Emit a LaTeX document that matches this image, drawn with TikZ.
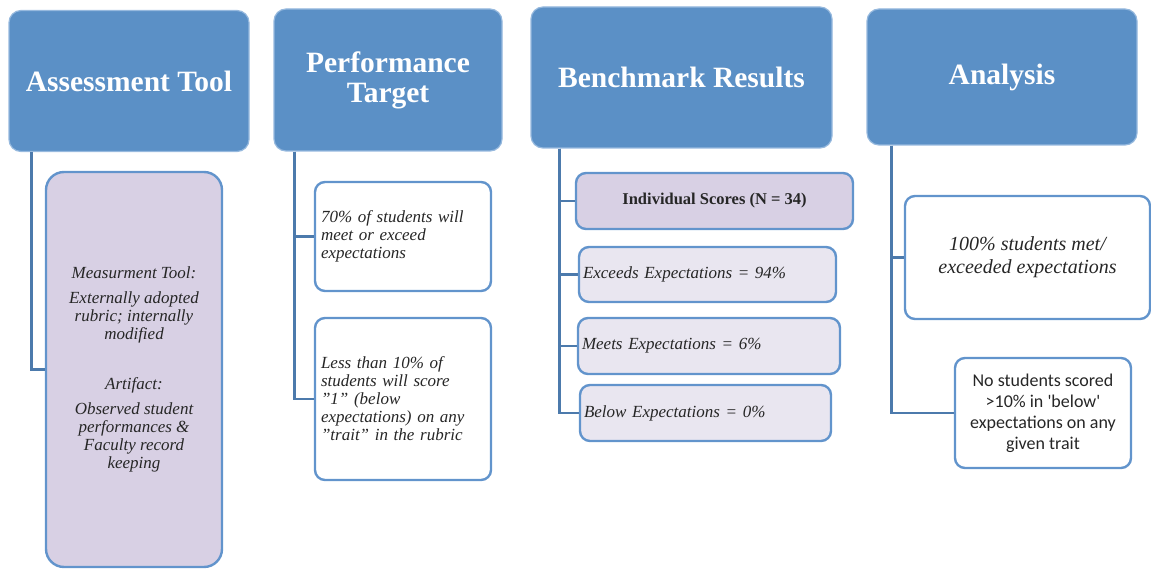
\documentclass[tikz,border=0pt]{standalone}
\usepackage{fontspec}
\setmainfont{Liberation Serif}
\newfontfamily\calibri{Carlito}
\definecolor{headfill}{RGB}{91,144,198}
\definecolor{headline}{RGB}{150,185,222}
\definecolor{boxline}{RGB}{98,148,204}
\definecolor{wire}{RGB}{76,122,172}
\definecolor{lilac}{RGB}{216,208,228}
\definecolor{mist}{RGB}{233,230,240}
\definecolor{ink}{RGB}{38,38,38}
\newcommand{\qq}{\symbol{34}}
\begin{document}
\begin{tikzpicture}[x=1pt,y=-1pt,
    head/.style={draw=headline,fill=headfill,line width=1.2,rounded corners=12,
      text=white,align=center,font=\bfseries\fontsize{29.5}{30}\selectfont},
    item/.style={draw=boxline,line width=2.4,rounded corners=10,text=ink,
      font=\itshape\fontsize{17}{18}\selectfont},
    leftitem/.style={item,align=left,inner xsep=#1},
    wirestyle/.style={draw=wire,line width=2.4}]
  \useasboundingbox (0,0) rectangle (1151,569);
  \draw
    (129,81) node[head,minimum width=240,minimum height=141] (tool){Assessment Tool}
    (388,80) node[head,minimum width=228,minimum height=142] (target){Performance\\Target}
    (681.5,77.5) node[head,minimum width=301,minimum height=141] (bench){Benchmark Results}
    (1002,77) node[head,minimum width=270,minimum height=136] (analysis){Analysis};
  % assessment tool
  \draw
    (134,369.5) node[item,fill=lilac,rounded corners=18,minimum width=176,minimum height=395,align=center] (measure)
      {Measurment Tool:\\[7pt]Externally adopted\\rubric; internally\\modified\\[32pt]Artifact:\\[7pt]Observed student\\performances \&\\Faculty record\\keeping};
  % performance target
  \draw
    (403,236.5) node[leftitem=6,text width=164,minimum height=109] (goal1)
      {70\% of students will\\meet or exceed\\expectations}
    (403,399) node[leftitem=6,text width=164,minimum height=162] (goal2)
      {Less than 10\% of\\students will score\\\qq1\qq{} (below\\expectations) on any\\\qq trait\qq{} in the rubric};
  % benchmark results
  \draw
    (714.5,201) node[item,fill=lilac,minimum width=277,minimum height=56,
      font=\bfseries\fontsize{16.5}{18}\selectfont] (scores){Individual Scores (N = 34)}
    (707.5,274.5) node[leftitem=4,fill=mist,text width=249,minimum height=55] (exceeds)
      {Exceeds Expectations = 94\%}
    (709,346) node[leftitem=4,fill=mist,text width=254,minimum height=56] (meets)
      {Meets Expectations = 6\%}
    (705.5,413) node[leftitem=4,fill=mist,text width=243,minimum height=56] (below)
      {Below Expectations = 0\%};
  % analysis
  \draw
    (1027.5,257.5) node[item,minimum width=245,minimum height=123,align=center,
      font=\itshape\fontsize{20}{23}\selectfont] (result){100\% students met/\\exceeded expectations}
    (1043,413) node[item,minimum width=176,minimum height=110,align=center,
      font=\calibri\fontsize{18}{21}\selectfont] (trait){No students scored\\>10\% in 'below'\\expectations on any\\given trait};
  \begin{scope}[wirestyle]
    \draw ([xshift=23]tool.south west) |- (measure.west);
    \draw ([xshift=21]target.south west) |- (goal1.west);
    \draw ([xshift=21]target.south west) |- (goal2.west);
    \draw ([xshift=29]bench.south west) |- (scores.west);
    \draw ([xshift=29]bench.south west) |- (exceeds.west);
    \draw ([xshift=29]bench.south west) |- (meets.west);
    \draw ([xshift=29]bench.south west) |- (below.west);
    \draw ([xshift=25]analysis.south west) |- (result.west);
    \draw ([xshift=25]analysis.south west) |- (trait.west);
  \end{scope}
\end{tikzpicture}
\end{document}
